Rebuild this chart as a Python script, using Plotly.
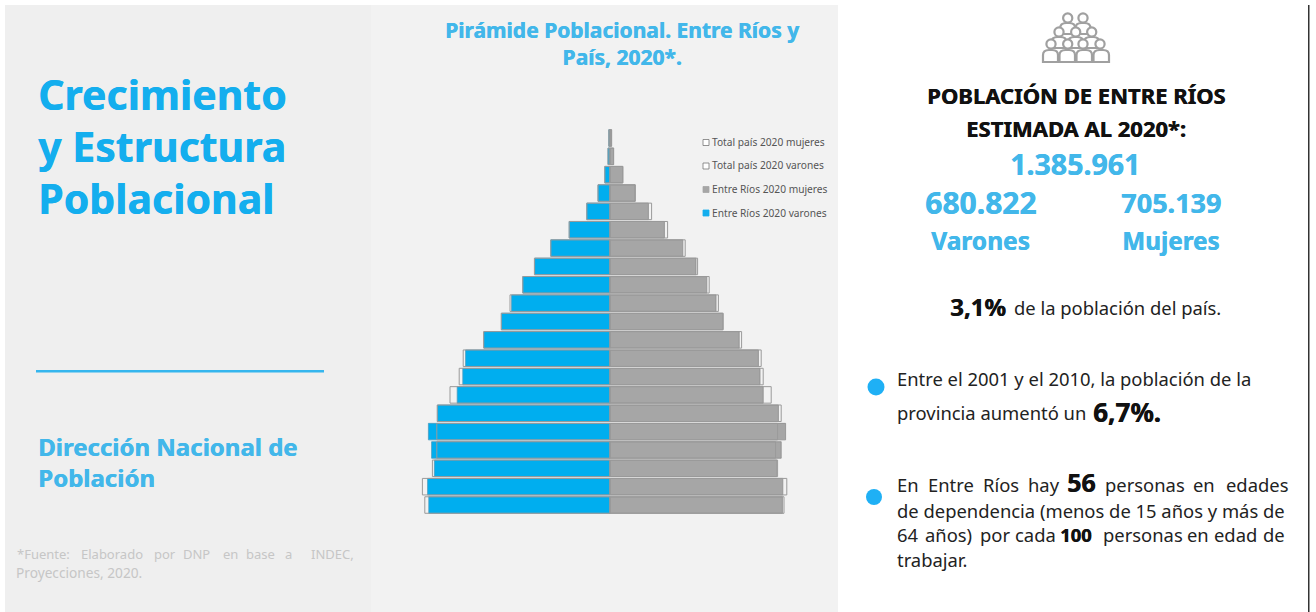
import plotly.graph_objects as go

W, H = 1316, 612
FONT = "Noto Sans"
BLUE = "#14aeee"
SOFT = "#42b7ea"

ages = ["100+", "95-99", "90-94", "85-89", "80-84", "75-79", "70-74", "65-69", "60-64", "55-59", "50-54",
        "45-49", "40-44", "35-39", "30-34", "25-29", "20-24", "15-19", "10-14", "5-9", "0-4"]
er_varones = [0.03, 0.05, 0.13, 0.30, 0.58, 1.02, 1.48, 1.88, 2.18, 2.46, 2.71,
              3.15, 3.61, 3.68, 3.82, 4.31, 4.54, 4.46, 4.39, 4.56, 4.53]
er_mujeres = [0.04, 0.09, 0.32, 0.63, 0.96, 1.36, 1.82, 2.15, 2.42, 2.65, 2.82,
              3.23, 3.71, 3.75, 3.83, 4.21, 4.39, 4.28, 4.17, 4.32, 4.31]
pais_varones = [0.03, 0.05, 0.13, 0.30, 0.58, 1.02, 1.48, 1.89, 2.18, 2.50, 2.72,
                3.16, 3.67, 3.77, 4.00, 4.32, 4.33, 4.33, 4.44, 4.69, 4.63]
pais_mujeres = [0.04, 0.09, 0.32, 0.63, 1.04, 1.44, 1.88, 2.19, 2.48, 2.71, 2.83,
                3.29, 3.78, 3.83, 4.03, 4.28, 4.19, 4.14, 4.19, 4.42, 4.35]
legend_labels = ["Total país 2020 mujeres", "Total país 2020 varones", "Entre Ríos 2020 mujeres", "Entre Ríos 2020 varones"]


def px(x):
    return x / W


def py(y):
    return 1 - y / H


fig = go.Figure()
fig.add_bar(y=ages, x=[-v for v in er_varones], orientation="h", name=legend_labels[3],
            marker=dict(color="#00aeef", line=dict(color="#4a9cc0", width=0.8)), width=0.9)
fig.add_bar(y=ages, x=er_mujeres, orientation="h", name=legend_labels[2],
            marker=dict(color="#a6a6a6", line=dict(color="#8c8c8c", width=0.8)), width=0.9)
fig.add_bar(y=ages, x=[-v for v in pais_varones], orientation="h", name=legend_labels[1],
            marker=dict(color="rgba(0,0,0,0)", line=dict(color="#9a9a9a", width=1)), width=0.9)
fig.add_bar(y=ages, x=pais_mujeres, orientation="h", name=legend_labels[0],
            marker=dict(color="rgba(0,0,0,0)", line=dict(color="#9a9a9a", width=1)), width=0.9)

shapes = []


def rect(x0, y0, x1, y1, fill, line=None, lw=0, layer="below"):
    shapes.append(dict(type="rect", xref="paper", yref="paper", x0=px(x0), x1=px(x1), y0=py(y0), y1=py(y1),
                       fillcolor=fill, line=dict(color=line or fill, width=lw), layer=layer))


def circle(cx, cy, r, fill, line=None, lw=0):
    shapes.append(dict(type="circle", xref="paper", yref="paper", x0=px(cx - r), x1=px(cx + r),
                       y0=py(cy - r), y1=py(cy + r), fillcolor=fill, line=dict(color=line or fill, width=lw),
                       layer="above"))


def body(x0, x1, top, bottom):
    shapes.append(dict(type="path", xref="paper", yref="paper", layer="above",
                       path=f"M{px(x0)},{py(bottom)} L{px(x0)},{py(top+5)} Q{px(x0)},{py(top)} {px(x0+6)},{py(top)} "
                            f"L{px(x1-6)},{py(top)} Q{px(x1)},{py(top)} {px(x1)},{py(top+5)} L{px(x1)},{py(bottom)} Z",
                       fillcolor="#ffffff", line=dict(color="#a0a0a0", width=2.2)))


# panels
rect(5, 5, 371, H, "#efefef")
rect(371, 5, 838, H, "#f2f2f2")
rect(36, 370, 324, 372.5, "#35b6ee")
rect(1308, 5, 1309.5, H, "#333333")

# people icon, back row first so that each row hides the one behind it
for cx in (1067.7, 1083):
    body(cx - 7.5, cx + 7.5, 23, 34)
    circle(cx, 18, 4.6, "#ffffff", "#a0a0a0", 2.2)
for cx in (1059, 1075.7, 1091.7):
    body(cx - 7.5, cx + 7.5, 37, 48)
    circle(cx, 32, 4.6, "#ffffff", "#a0a0a0", 2.2)
for cx, x0, x1 in [(1051, 1043, 1058), (1067.7, 1059.5, 1075), (1083, 1076.5, 1092), (1100, 1093.5, 1109)]:
    body(x0, x1, 50, 62)
    circle(cx, 44, 4.6, "#ffffff", "#a0a0a0", 2.2)

# bullets
circle(876, 387, 8.5, "#1fb0f5")
circle(874, 497, 8, "#1fb0f5")

# legend key
for (y, fill, line) in [(142.5, "#ffffff", "#777777"), (166, "#ffffff", "#777777"),
                        (189.5, "#a6a6a6", "#a6a6a6"), (213, "#14aeee", "#14aeee")]:
    rect(703, y - 3, 709, y + 3, fill, line, 0.8, layer="above")

anns = []


def text(x, y, s, size, color="#222222", anchor="left", bold=False):
    font = dict(family=FONT, size=size, color=color)
    if bold:
        font["shadow"] = f"0.5px 0 0 {color}"
    anns.append(dict(xref="paper", yref="paper", x=px(x), y=py(y), text=f"<b>{s}</b>" if bold else s,
                     showarrow=False, xanchor=anchor, yanchor="middle", borderpad=0, borderwidth=0,
                     font=font, align=anchor))


def words(y, size, placed, color="#222222"):
    for x, s in placed:
        text(x, y, s, size, color)


for y, s in [(94, "Crecimiento"), (146, "y Estructura"), (198, "Poblacional")]:
    text(37.5, y, s, 41, BLUE, bold=True)
text(37.5, 446, "Dirección Nacional de", 24, SOFT, bold=True)
text(37.5, 477.5, "Población", 24, SOFT, bold=True)
words(554, 13, [(17, "*Fuente:"), (81, "Elaborado"), (154, "por"), (183, "DNP"), (223, "en"),
                (246, "base"), (285, "a"), (311, "INDEC,")], "#c6c6c6")
text(16, 572, "Proyecciones, 2020.", 13.7, "#c6c6c6")

text(622, 44, "Pirámide Poblacional. Entre Ríos y<br>País, 2020*.", 21, SOFT, "center", True)

for y, s in zip([141.5, 165, 188.5, 212.5], legend_labels):
    text(712, y, s, 10.2, "#555555")

text(1076, 95, "POBLACIÓN DE ENTRE RÍOS", 22, "#111111", "center", True)
text(1076, 128, "ESTIMADA AL 2020*:", 22, "#111111", "center", True)
text(1075, 164, "1.385.961", 28.5, SOFT, "center", True)
text(980, 203, "680.822", 30, SOFT, "center", True)
text(1171, 203, "705.139", 27, SOFT, "center", True)
text(980, 241, "Varones", 24.5, SOFT, "center", True)
text(1171, 241, "Mujeres", 24.3, SOFT, "center", True)

BODY = 18.4
BIG = 26
text(950, 306.5, "3,1%", 24, "#111111", bold=True)
text(1014, 307, "de la población del país.", BODY)
text(897, 378.5, "Entre el 2001 y el 2010, la población de la", BODY)
text(897, 412, "provincia aumentó un", BODY)
text(1093, 411.5, "6,7%.", BIG, "#111111", bold=True)
words(484, BODY, [(897, "En"), (928, "Entre"), (983, "Ríos"), (1028, "hay"),
                  (1105, "personas"), (1193, "en"), (1226, "edades")])
text(1067, 482, "56", 25, "#111111", bold=True)
text(897, 510, "de dependencia (menos de 15 años y más de", BODY)
words(534.5, BODY, [(897, "64"), (925, "años)"), (980, "por"), (1015, "cada"),
                    (1103, "personas"), (1187, "en"), (1214, "edad"), (1263, "de")])
text(1060, 534.5, "100", BODY, "#111111", bold=True)
text(897, 559.5, "trabajar.", BODY)

# 40 px per percentage point, centred on x = 610
fig.update_layout(
    width=W, height=H, margin=dict(l=0, r=0, t=0, b=0, pad=0, autoexpand=False),
    paper_bgcolor="#ffffff", plot_bgcolor="rgba(0,0,0,0)",
    barmode="overlay", showlegend=False, shapes=shapes, annotations=anns,
    xaxis=dict(domain=[px(400), px(820)], range=[-5.25, 5.25], visible=False, fixedrange=True),
    yaxis=dict(domain=[py(514.2), py(128.8)], type="category", categoryorder="array", categoryarray=ages,
               range=[20.5, -0.5], visible=False, fixedrange=True),
)

fig.write_html("out.html", config=dict(displayModeBar=False),
               post_script="document.body.style.margin='0';document.body.style.overflow='hidden';")
